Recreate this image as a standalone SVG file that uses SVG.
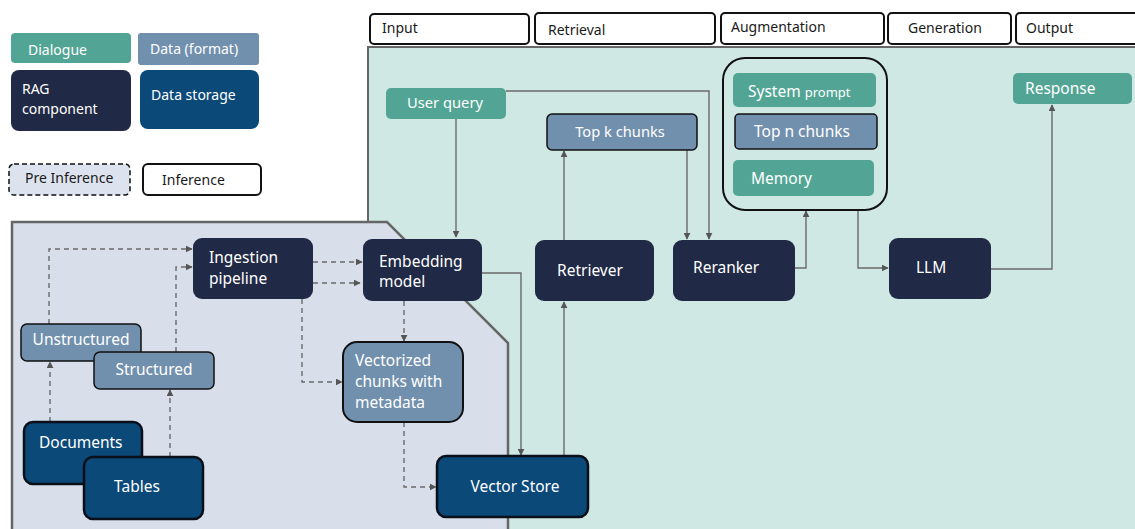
<svg xmlns="http://www.w3.org/2000/svg" width="1135" height="529" viewBox="0 0 1135 529">
  <style>
    text { font-family: "Noto Sans", "Open Sans", "DejaVu Sans", sans-serif; }
    .lbl { fill: #ffffff; font-size: 15.5px; }
    .sm { font-size: 14px; }
    .md { font-size: 14.7px; }
    .hdr { fill: #1a1a1a; font-size: 14px; }
    .dlg { fill: #52a594; }
    .fmt { fill: #7190ad; }
    .fmtb { fill: #7190ad; stroke: #111; stroke-width: 1.5; }
    .rag { fill: #202945; }
    .sto { fill: #0b4979; stroke: #0a0f1a; stroke-width: 2.5; }
    .phase { fill: #ffffff; stroke: #111; stroke-width: 2; }
    .solid { fill: none; stroke: #6a6a6a; stroke-width: 1.4; marker-end: url(#arr); }
    .dash { fill: none; stroke: #6a6a6a; stroke-width: 1.4; stroke-dasharray: 5 4; marker-end: url(#arr); }
  </style>
  <defs>
    <marker id="arr" viewBox="0 0 10 10" refX="9" refY="5" markerWidth="7" markerHeight="7" markerUnits="userSpaceOnUse" orient="auto">
      <path d="M0,0 L10,5 L0,10 z" fill="#555"/>
    </marker>
  </defs>

  <rect width="1135" height="529" fill="#ffffff"/>

  <!-- Inference area and pre-inference area -->
  <rect x="368" y="47" width="770" height="485" fill="#d0e8e3" stroke="#666" stroke-width="2"/>
  <polygon points="12,222 387,222 508,343 508,532 12,532" fill="#d9dfea" stroke="#666" stroke-width="2.5"/>

  <!-- Phase headers -->
  <g id="phase-input"><rect class="phase" x="370" y="14" width="159" height="30" rx="4"/><text class="hdr" x="382" y="33">Input</text></g>
  <g id="phase-retrieval"><rect class="phase" x="535" y="13" width="180" height="31" rx="4"/><text class="hdr" x="548" y="35">Retrieval</text></g>
  <g id="phase-augmentation"><rect class="phase" x="721" y="13" width="163" height="31" rx="4"/><text class="hdr" x="731" y="32">Augmentation</text></g>
  <g id="phase-generation"><rect class="phase" x="888" y="13" width="123" height="31" rx="4"/><text class="hdr" x="908" y="33">Generation</text></g>
  <g id="phase-output"><rect class="phase" x="1016" y="13" width="125" height="31" rx="4"/><text class="hdr" x="1026" y="33">Output</text></g>

  <!-- Legend -->
  <g id="legend-dialogue"><rect class="dlg" x="11" y="33" width="120" height="30" rx="4"/><text class="lbl sm" x="28" y="55">Dialogue</text></g>
  <g id="legend-format"><rect class="fmt" x="138" y="33" width="121" height="32" rx="3"/><text class="lbl sm" x="150" y="54">Data (format)</text></g>
  <g id="legend-rag"><rect class="rag" x="11" y="70" width="120" height="61" rx="8"/><text class="lbl sm" x="22" y="94">RAG</text><text class="lbl sm" x="22" y="114">component</text></g>
  <g id="legend-storage"><rect fill="#0b4979" x="140" y="70" width="119" height="59" rx="8"/><text class="lbl sm" x="151" y="100">Data storage</text></g>
  <g id="legend-pre"><rect x="9" y="164" width="121" height="31" rx="5" fill="#dde3ee" stroke="#111" stroke-width="1.5" stroke-dasharray="5 3"/><text class="hdr" x="25" y="183">Pre Inference</text></g>
  <g id="legend-inf"><rect class="phase" x="143" y="164" width="118" height="31" rx="5"/><text class="hdr" x="162" y="185">Inference</text></g>

  <!-- Connectors -->
  <g id="connectors">
    <path class="solid" d="M456,118 V237"/>
    <path class="solid" d="M506,91 H709 V239"/>
    <path class="solid" d="M687,150 V239"/>
    <path class="solid" d="M564,240 V151"/>
    <path class="solid" d="M795,268 H806 V211"/>
    <path class="solid" d="M858,210 V268 H888"/>
    <path class="solid" d="M991,269 H1052 V105"/>
    <path class="solid" d="M482,273 H521 V455"/>
    <path class="solid" d="M564,456 V302"/>

    <path class="dash" d="M49,324 V249 H192"/>
    <path class="dash" d="M176,352 V267 H192"/>
    <path class="dash" d="M313,262 H362"/>
    <path class="dash" d="M313,283 H360"/>
    <path class="dash" d="M302,299 V382 H342"/>
    <path class="dash" d="M404,301 V341"/>
    <path class="dash" d="M404,422 V487 H436"/>
    <path class="dash" d="M50,422 V362"/>
    <path class="dash" d="M170,457 V390"/>
  </g>

  <!-- Input / output -->
  <g id="user-query"><rect class="dlg" x="386" y="88" width="120" height="31" rx="5"/><text class="lbl md" x="445" y="108" text-anchor="middle">User query</text></g>
  <g id="response"><rect class="dlg" x="1013" y="73" width="119" height="31" rx="5"/><text class="lbl" x="1025" y="94">Response</text></g>

  <!-- Retrieval -->
  <g id="top-k"><rect class="fmtb" x="547" y="114" width="150" height="36" rx="5"/><text class="lbl md" x="620" y="137" text-anchor="middle">Top k chunks</text></g>
  <g id="retriever"><rect class="rag" x="535" y="240" width="119" height="61" rx="9"/><text class="lbl" x="557" y="276">Retriever</text></g>
  <g id="reranker"><rect class="rag" x="673" y="240" width="122" height="61" rx="9"/><text class="lbl" x="693" y="273">Reranker</text></g>

  <!-- Augmentation -->
  <g id="augmentation">
    <rect x="723" y="58" width="164" height="152" rx="22" fill="none" stroke="#111" stroke-width="2"/>
    <g id="system-prompt"><rect class="dlg" x="733" y="73" width="143" height="34" rx="5"/><text class="lbl" x="748" y="97">System <tspan font-size="13">prompt</tspan></text></g>
    <g id="top-n"><rect class="fmtb" x="735" y="114" width="142" height="35" rx="4"/><text class="lbl" x="754" y="137">Top n chunks</text></g>
    <g id="memory"><rect class="dlg" x="733" y="160" width="141" height="36" rx="5"/><text class="lbl" x="751" y="184">Memory</text></g>
  </g>

  <!-- Generation -->
  <g id="llm"><rect class="rag" x="889" y="238" width="102" height="61" rx="9"/><text class="lbl" x="916" y="273">LLM</text></g>

  <!-- Pre-inference pipeline -->
  <g id="ingestion"><rect class="rag" x="193" y="238" width="120" height="61" rx="9"/><text class="lbl" x="209" y="263">Ingestion</text><text class="lbl" x="209" y="284">pipeline</text></g>
  <g id="embedding"><rect class="rag" x="363" y="239" width="119" height="62" rx="9"/><text class="lbl" x="379" y="267">Embedding</text><text class="lbl" x="379" y="287">model</text></g>
  <g id="vectorized"><rect class="fmt" x="343" y="342" width="120" height="80" rx="14" stroke="#111" stroke-width="2"/><text class="lbl" x="355" y="366">Vectorized</text><text class="lbl" x="355" y="387">chunks with</text><text class="lbl" x="355" y="408">metadata</text></g>
  <g id="unstructured"><rect class="fmtb" x="21" y="324" width="120" height="37" rx="6"/><text class="lbl" x="81" y="345" text-anchor="middle">Unstructured</text></g>
  <g id="structured"><rect class="fmtb" x="94" y="352" width="120" height="37" rx="6"/><text class="lbl" x="154" y="375" text-anchor="middle">Structured</text></g>
  <g id="documents"><rect class="sto" x="24" y="422" width="118" height="62" rx="9"/><text class="lbl" x="39" y="448">Documents</text></g>
  <g id="tables"><rect class="sto" x="84" y="457" width="119" height="62" rx="9"/><text class="lbl" x="137" y="492" text-anchor="middle">Tables</text></g>
  <g id="vector-store"><rect class="sto" x="437" y="456" width="151" height="61" rx="9"/><text class="lbl" x="515" y="492" text-anchor="middle">Vector Store</text></g>
</svg>
